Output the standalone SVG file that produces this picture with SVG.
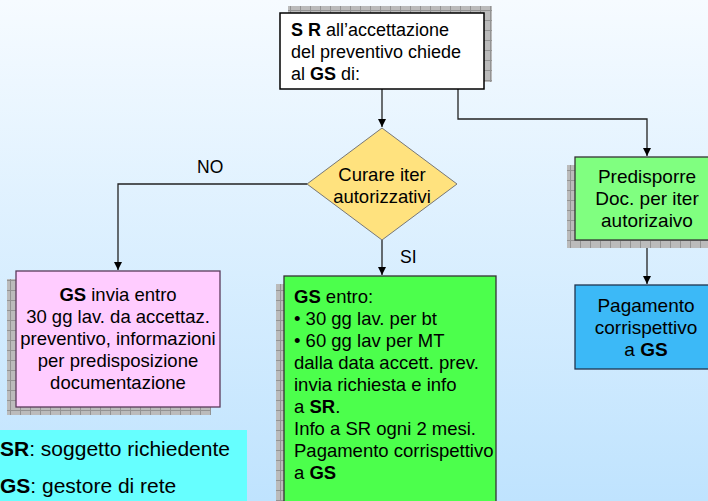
<svg xmlns="http://www.w3.org/2000/svg" width="708" height="501" viewBox="0 0 708 501">
<defs>
<linearGradient id="bg" x1="0" y1="0" x2="0" y2="1">
<stop offset="0" stop-color="#F6FBFF"/>
<stop offset="1" stop-color="#BFE3FE"/>
</linearGradient>
<pattern id="hatch" width="10" height="10" patternUnits="userSpaceOnUse">
<rect width="10" height="10" fill="#BBBBBB"/>
<path d="M0 0.5H10M0.5 0V10" stroke="#939393" stroke-width="1"/>
</pattern>
<marker id="arr" viewBox="0 0 10 10" refX="10" refY="5" markerWidth="8" markerHeight="8" markerUnits="userSpaceOnUse" orient="auto">
<path d="M0 0L10 5L0 10Z" fill="#000"/>
</marker>
<style>
text{font-family:"Liberation Sans",Arial,sans-serif;font-size:18.5px;fill:#000}
.c{text-anchor:middle}
.b{font-weight:bold}
.r{font-size:19px}
.lg{font-size:21px}
.sh{fill:url(#hatch)}
.ln{fill:none;stroke:#222;stroke-width:1.3}
</style>
</defs>
<rect width="708" height="501" fill="url(#bg)"/>

<g id="connectors">
<path class="ln" d="M382 89V127" marker-end="url(#arr)"/>
<path class="ln" d="M458 89V119H647V156" marker-end="url(#arr)"/>
<path class="ln" d="M307 184H118V270" marker-end="url(#arr)"/>
<path class="ln" d="M382 240V275" marker-end="url(#arr)"/>
<path class="ln" d="M647 240V284" marker-end="url(#arr)"/>
<text x="197" y="173" style="font-size:17.5px">NO</text>
<text x="400" y="263" style="font-size:17.5px">SI</text>
</g>

<g id="start">
<rect class="sh" x="288" y="6" width="204" height="76"/>
<rect x="280" y="13" width="204" height="76" fill="#FFFFFF" stroke="#000" stroke-width="1.5"/>
<text x="291" y="36" style="font-size:18px"><tspan class="b">S R</tspan> all’accettazione</text>
<text x="291" y="58" style="font-size:18px">del preventivo chiede</text>
<text x="291" y="80" style="font-size:18px">al <tspan class="b">GS</tspan> di:</text>
</g>

<g id="decision">
<path d="M382 128L457 184L382 240L307 184Z" fill="#FFE27E" stroke="#777" stroke-width="1"/>
<text class="c" x="382" y="181">Curare iter</text>
<text class="c" x="382" y="203">autorizzativi</text>
</g>

<g id="pink">
<rect class="sh" x="7" y="279" width="204" height="136"/>
<rect x="16" y="271" width="204" height="136" fill="#FFCCFF" stroke="#5A3A5A" stroke-width="1.3"/>
<text class="c" x="118" y="301"><tspan class="b">GS</tspan> invia entro</text>
<text class="c" x="118" y="323">30 gg lav. da accettaz.</text>
<text class="c" x="118" y="345">preventivo, informazioni</text>
<text class="c" x="118" y="367">per predisposizione</text>
<text class="c" x="118" y="389">documentazione</text>
</g>

<g id="green">
<rect class="sh" x="276" y="284" width="212" height="230"/>
<rect x="284" y="276" width="212" height="232" fill="#4CFF4C" stroke="#333" stroke-width="1.3"/>
<text x="294" y="303"><tspan class="b">GS</tspan> entro:</text>
<text x="294" y="325">• 30 gg lav. per bt</text>
<text x="294" y="347">• 60 gg lav per MT</text>
<text x="294" y="369">dalla data accett. prev.</text>
<text x="294" y="391">invia richiesta e info</text>
<text x="294" y="413">a <tspan class="b">SR</tspan>.</text>
<text x="294" y="435">Info a SR ogni 2 mesi.</text>
<text x="294" y="457">Pagamento corrispettivo</text>
<text x="294" y="479">a <tspan class="b">GS</tspan></text>
</g>

<g id="predisporre">
<rect class="sh" x="567" y="165" width="145" height="83"/>
<rect x="575" y="157" width="145" height="83" fill="#80FF80" stroke="#333" stroke-width="1.3"/>
<text class="c r" x="647" y="183">Predisporre</text>
<text class="c r" x="647" y="205">Doc. per iter</text>
<text class="c r" x="647" y="227">autorizaivo</text>
</g>

<g id="pagamento">
<rect x="575" y="285" width="145" height="84" fill="#3CB9F7" stroke="#1F3550" stroke-width="1.3"/>
<text class="c r" x="646" y="312">Pagamento</text>
<text class="c r" x="646" y="334">corrispettivo</text>
<text class="c r" x="646" y="356">a <tspan class="b">GS</tspan></text>
</g>

<g id="legend">
<rect x="0" y="430" width="247" height="71" fill="#66FFFF"/>
<text class="lg" x="0" y="456"><tspan class="b">SR</tspan>: soggetto richiedente</text>
<text class="lg" x="0" y="493"><tspan class="b">GS</tspan>: gestore di rete</text>
</g>
</svg>
